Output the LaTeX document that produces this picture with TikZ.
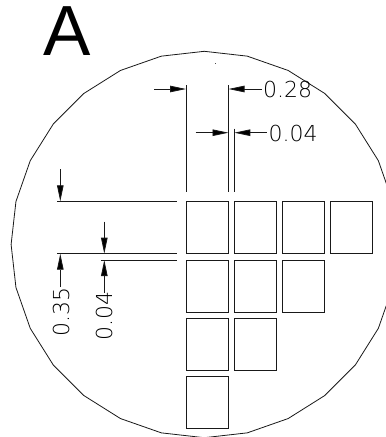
\documentclass[tikz,border=0pt]{standalone}
\usepackage{fontspec}
\usetikzlibrary{arrows.meta}
\setmainfont{DejaVu Sans ExtraLight}
\newfontfamily\titlefont{Liberation Sans}
\tikzset{
  ln/.style={line width=0.8pt,black!90},
  cell/.style={ln,draw},
  dim/.style={ln,-{Triangle[length=16pt,width=6.5pt,fill=black]}},
  lab/.style={inner sep=0pt,anchor=west,font=\fontsize{22}{22}\selectfont,text=black},
}
\begin{document}
\begin{tikzpicture}[x=1pt,y=-1pt]
\useasboundingbox (0,0) rectangle (386,437);
\clip (0,0) rectangle (386,437);
\node[inner sep=0pt,anchor=base west,font=\fontsize{71}{71}\selectfont\titlefont] (title) at (43,55) {A};
% wafer outline
\draw[ln] plot[samples=29,domain=0:360,variable=\a] ({204.3+193.2*cos(\a)},{244.5+193.2*sin(\a)}) -- cycle;
\fill[black!70] (214.6,62.7) rectangle (215.6,63.5);
% cells
\foreach \n/\xa/\ya in {a/186/201.3,b/234.3/201.3,c/282/201.3,d/330/201.3,
                        e/186/260,f/234.3/260,g/282/260,
                        h/186/318.3,i/234.3/318.3,
                        j/186/376.3}{
  \draw[cell] (\xa,\ya) rectangle ++(42.5,52.4);
}
% extension lines
\draw[ln] (186,85) -- (186,192);
\draw[ln] (228.5,85) -- (228.5,192);
\draw[ln] (234.3,128.7) -- (234.3,192);
\draw[ln] (57,201.3) -- (177,201.3);
\draw[ln] (57,253.7) -- (177,253.7);
\draw[ln] (100.7,260) -- (177,260);
% dimension arrows
\draw[dim] (154,89) -- (186,89);
\draw[dim] (262,89) -- (228.5,89);
\draw[dim] (195.7,132.7) -- (228.5,132.7);
\draw[dim] (266.7,132.7) -- (234.3,132.7);
\draw[dim] (60.3,169.3) -- (60.3,201.3);
\draw[dim] (60.3,287) -- (60.3,253.7);
\draw[dim] (104.3,221.7) -- (104.3,253.7);
\draw[dim] (104.3,293) -- (104.3,260);
% labels
\node[lab] (l28) at (263,89.7) {0.28};
\node[lab] (l04h) at (268.5,133.3) {0.04};
\node[lab,rotate=90] (l35) at (61,337) {0.35};
\node[lab,rotate=90] (l04v) at (104.5,341) {0.04};
\end{tikzpicture}
\end{document}
